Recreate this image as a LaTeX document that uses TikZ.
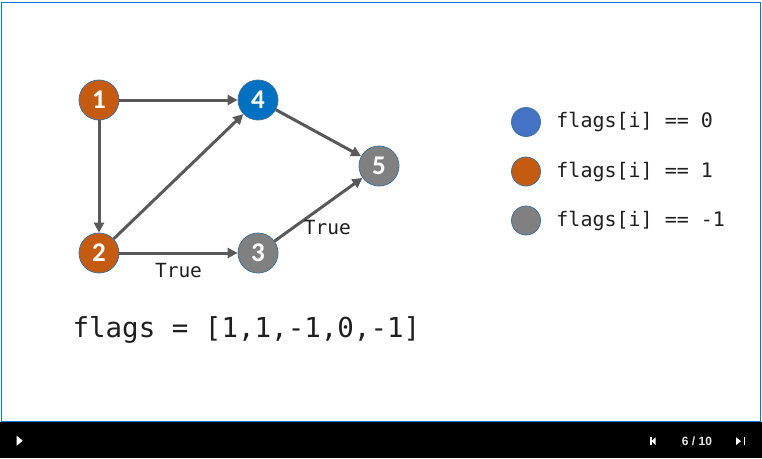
\documentclass[tikz,border=0pt]{standalone}
\usepackage{fontspec}
\setmainfont{Carlito}
\newfontfamily\digitfont{Carlito Bold}
\newfontfamily\codefont{DejaVu Sans Mono}
\newfontfamily\barfont{Liberation Sans}
\usetikzlibrary{arrows.meta,positioning}
\definecolor{flagone}{HTML}{C55A11}
\definecolor{flagzero}{HTML}{0070C0}
\definecolor{flagnone}{HTML}{808080}
\definecolor{keyzero}{HTML}{4472C4}
\definecolor{ringline}{HTML}{41719C}
\definecolor{edgegray}{HTML}{595959}
\definecolor{slideline}{HTML}{0078D7}
\definecolor{inktext}{HTML}{1F1F1F}
\definecolor{bartext}{HTML}{E6E6E6}
\begin{document}
\begin{tikzpicture}[x=1pt,y=-1pt,
  vertex/.style={circle,draw=ringline,line width=0.8pt,minimum size=40pt,
    inner sep=0pt,text=white,font=\digitfont\fontsize{27}{27}\selectfont},
  keydot/.style={circle,draw=ringline,line width=0.8pt,minimum size=29pt,inner sep=0pt},
  keytext/.style={text=inktext,font=\codefont\fontsize{20}{20}\selectfont},
  edge/.style={draw=edgegray,line width=3pt,-{Triangle[length=10pt,width=10pt]}},
  edgetext/.style={text=inktext,font=\codefont\fontsize{19.5}{19.5}\selectfont}]
  \useasboundingbox (0,0) rectangle (762,458);
  % slide frame and player bar
  \draw[slideline,line width=1.5pt] (1.5,2.7) rectangle (760.5,421.5);
  \fill[black] (0,422) rectangle (762,458);
  \fill[white] (16.7,435.7) -- (22.7,440.7) -- (16.7,445.7) -- cycle;
  \fill[white] (650,437.3) rectangle (651.5,445);
  \fill[white] (655.5,437.3) -- (651.5,441.2) -- (655.5,445) -- cycle;
  \fill[white] (736,437.3) -- (741,441.2) -- (736,445) -- cycle;
  \fill[white] (743.7,437.3) rectangle (745.3,445);
  \node[text=bartext,font=\barfont\bfseries\fontsize{12}{12}\selectfont] (page) at (697,441) {6 / 10};
  % graph
  \node[vertex,fill=flagone] (v1) at (99,100) {1};
  \node[vertex,fill=flagone] (v2) at (99,253) {2};
  \node[vertex,fill=flagnone] (v3) at (258,253) {3};
  \node[vertex,fill=flagzero] (v4) at (258,100) {4};
  \node[vertex,fill=flagnone] (v5) at (379,166) {5};
  \draw[edge] (v1) -- (v4);
  \draw[edge] (v1) -- (v2);
  \draw[edge] (v2) -- (v4);
  \draw[edge] (v2) -- node[edgetext,below=5pt] (t23) {True} (v3);
  \draw[edge] (v3) -- node[edgetext,pos=0.6,below=12pt] (t35) {True} (v5);
  \draw[edge] (v4) -- (v5);
  % legend
  \node[keydot,fill=keyzero] (k0) at (526,122) {};
  \node[keydot,fill=flagone] (k1) at (526,171.5) {};
  \node[keydot,fill=flagnone] (km) at (526,220.5) {};
  \node[keytext,right=12pt of k0] (l0) {flags[i] == 0};
  \node[keytext,right=12pt of k1] (l1) {flags[i] == 1};
  \node[keytext,right=12pt of km] (lm) {flags[i] == -1};
  % flags array
  \node[text=inktext,font=\codefont\fontsize{27.5}{27.5}\selectfont,anchor=base west]
    (flags) at (69,337) {flags = [1,1,-1,0,-1]};
\end{tikzpicture}
\end{document}
